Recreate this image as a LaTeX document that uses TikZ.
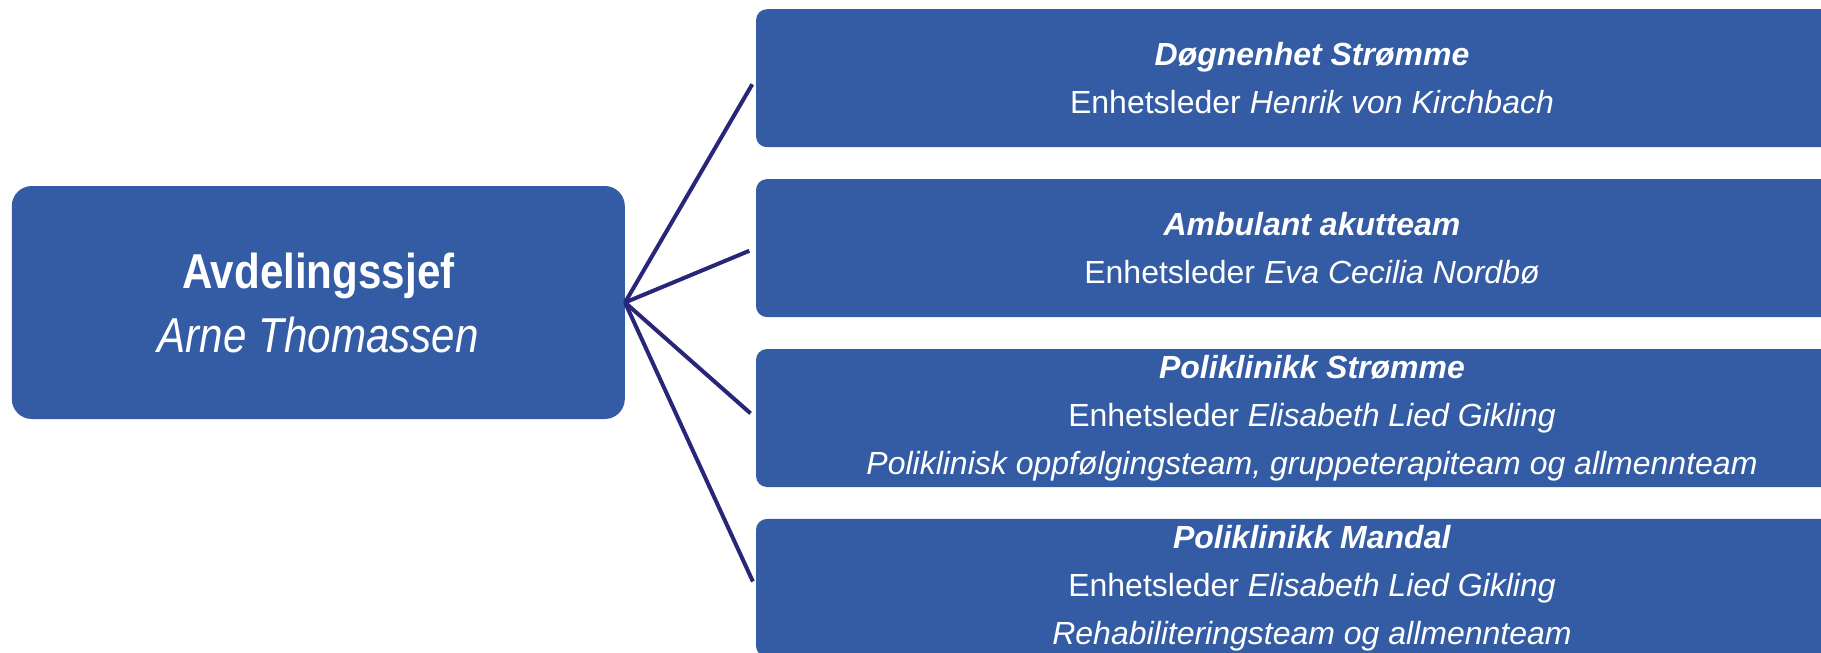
\documentclass[tikz,border=0pt]{standalone}
\usepackage{fontspec}
\setmainfont{Liberation Sans}
\newfontfamily\narrowfont{Liberation Sans}[FakeStretch=0.86]
\usepackage{tikz}
\usetikzlibrary{positioning}
\usepackage{color}
\definecolor{unitblue}{RGB}{52, 92, 165}
\definecolor{linknavy}{RGB}{40, 38, 120}

\tikzset{
    bossbox/.style={rectangle, rounded corners=20pt, fill=unitblue, text=white,
        minimum width=613pt, minimum height=233pt, inner sep=0pt, align=center,
        font=\narrowfont\fontsize{49}{64}\selectfont},
    unitbox/.style={rectangle, rounded corners=11pt, fill=unitblue, text=white,
        minimum width=1112pt, minimum height=138pt, inner sep=0pt, align=center,
        font=\fontsize{32}{48}\selectfont},
    link/.style={draw=linknavy, line width=4pt, shorten >=7pt}
}

\begin{document}
\begin{tikzpicture}[x=1pt, y=-1pt]
    \useasboundingbox (0,0) rectangle (1821,653);
    \clip (0,0) rectangle (1821,653);

    \node[bossbox] (boss) at (318.3, 302.5) {\textbf{Avdelingssjef}\\ \textit{Arne Thomassen}};

    \node[unitbox] (stromme)  at (1312, 78.2) {\textbf{\textit{Døgnenhet Strømme}}\\ Enhetsleder \textit{Henrik von Kirchbach}};
    \node[unitbox, below=31.5pt of stromme] (akutt) {\textbf{\textit{Ambulant akutteam}}\\ Enhetsleder \textit{Eva Cecilia Nordbø}};
    \node[unitbox, below=31.5pt of akutt] (polistromme) {\textbf{\textit{Poliklinikk Strømme}}\\ Enhetsleder \textit{Elisabeth Lied Gikling}\\ \textit{Poliklinisk oppfølgingsteam, gruppeterapiteam og allmennteam}};
    \node[unitbox, below=31.5pt of polistromme] (polimandal) {\textbf{\textit{Poliklinikk Mandal}}\\ Enhetsleder \textit{Elisabeth Lied Gikling}\\ \textit{Rehabiliteringsteam og allmennteam}};

    \foreach \unit in {stromme, akutt, polistromme, polimandal}
        \draw[link] (boss.east) -- (\unit.west);
\end{tikzpicture}
\end{document}
